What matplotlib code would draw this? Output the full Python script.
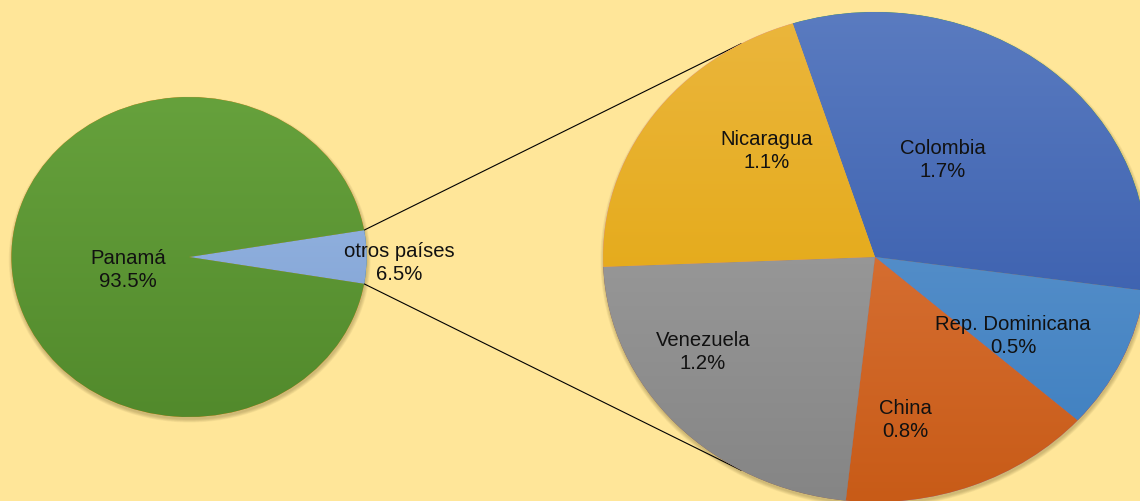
import numpy as np
import matplotlib.pyplot as plt
from matplotlib.colors import LinearSegmentedColormap
from matplotlib.patches import Circle

# Data
principal_labels = ["otros países", "Panamá"]
principal_pct_text = ["6.5%", "93.5%"]
panama_value = 93.5

detalle_labels = ["Colombia", "Rep. Dominicana", "China", "Venezuela", "Nicaragua"]
detalle_values = [1.7, 0.5, 0.8, 1.2, 1.1]

# the "otros" wedge is the sum of the detail pie (as in the original pie-of-pie)
otros_value = sum(detalle_values)
principal_values = [otros_value, panama_value]

# colours (top, bottom) for the vertical gradient
principal_colors = [("#9dbbe6", "#7a9dd0"), ("#66a13c", "#528a2c")]
detalle_colors = [("#5a7bc0", "#2b52a6"), ("#6a9dd2", "#3b7dbf"),
                  ("#e2804a", "#c85b17"), ("#a8a8a8", "#858585"),
                  ("#ebb63d", "#e0a200")]

BG = "#ffe699"
SX = 1.11  # horizontal stretch of the original picture

fig = plt.figure(figsize=(11.4, 5.01), dpi=100)
fig.patch.set_facecolor(BG)
ax = fig.add_axes([0, 0, 1, 1])
ax.set_facecolor(BG)


def px(x, y):
    return x / SX, 501 - y


def shade(wedge, top, bottom, cx, cy, r):
    cmap = LinearSegmentedColormap.from_list("g", [bottom, top])
    grad = np.linspace(0, 1, 256).reshape(-1, 1)
    im = ax.imshow(grad, cmap=cmap, origin="lower", aspect="auto",
                   extent=(cx - r, cx + r, cy - r, cy + r), zorder=2)
    im.set_clip_path(wedge)


def shadow(cx, cy, r):
    for k in range(6):
        ax.add_patch(Circle((cx + 0.6, cy - 2.5), r + 3 - k * 0.6,
                            color="#6b5a2a", alpha=0.06, lw=0, zorder=1))


# left pie
c1 = px(189, 257)
r1 = 160
shadow(*c1, r1)
w1, _ = ax.pie(principal_values, center=c1, radius=r1,
               startangle=-otros_value / sum(principal_values) * 180,
               wedgeprops=dict(linewidth=0), frame=True)
for w, (top, bot) in zip(w1, principal_colors):
    w.set_zorder(2)
    shade(w, top, bot, *c1, r1)

# right pie
c2 = px(875, 257)
r2 = 245
shadow(*c2, r2)
w2, _ = ax.pie(detalle_values, center=c2, radius=r2, startangle=107.6,
               counterclock=False, wedgeprops=dict(linewidth=0), frame=True)
for w, (top, bot) in zip(w2, detalle_colors):
    w.set_zorder(2)
    shade(w, top, bot, *c2, r2)

# connector lines between the pies
half = np.radians(w1[0].theta2)
for sgn, ang in [(1, 119.5), (-1, 240.5)]:
    x0 = c1[0] + r1 * np.cos(half)
    y0 = c1[1] + sgn * r1 * np.sin(half)
    x1 = c2[0] + r2 * np.cos(np.radians(ang))
    y1 = c2[1] + r2 * np.sin(np.radians(ang))
    ax.plot([x0, x1], [y0, y1], color="black", lw=0.8, zorder=1.5)

ax.set_xlim(0, 1140 / SX)
ax.set_ylim(0, 501)
ax.set_aspect("auto")
ax.axis("off")

# labels
font = dict(family="Liberation Sans", fontsize=14.6, ha="center", va="center",
            linespacing=1.3, zorder=5, color="#111111")
principal_pos = [(399, 263), (128, 270)]
for lab, pct, (x, y) in zip(principal_labels, principal_pct_text, principal_pos):
    ax.text(*px(x, y), f"{lab}\n{pct}", **font)

detalle_pos = [(943, 160), (1013, 336), (905, 420), (703, 352), (767, 151)]
for lab, v, (x, y) in zip(detalle_labels, detalle_values, detalle_pos):
    ax.text(*px(x, y), f"{lab}\n{v:.1f}%", **font)

fig.savefig("out.png", dpi=100, facecolor=BG)
